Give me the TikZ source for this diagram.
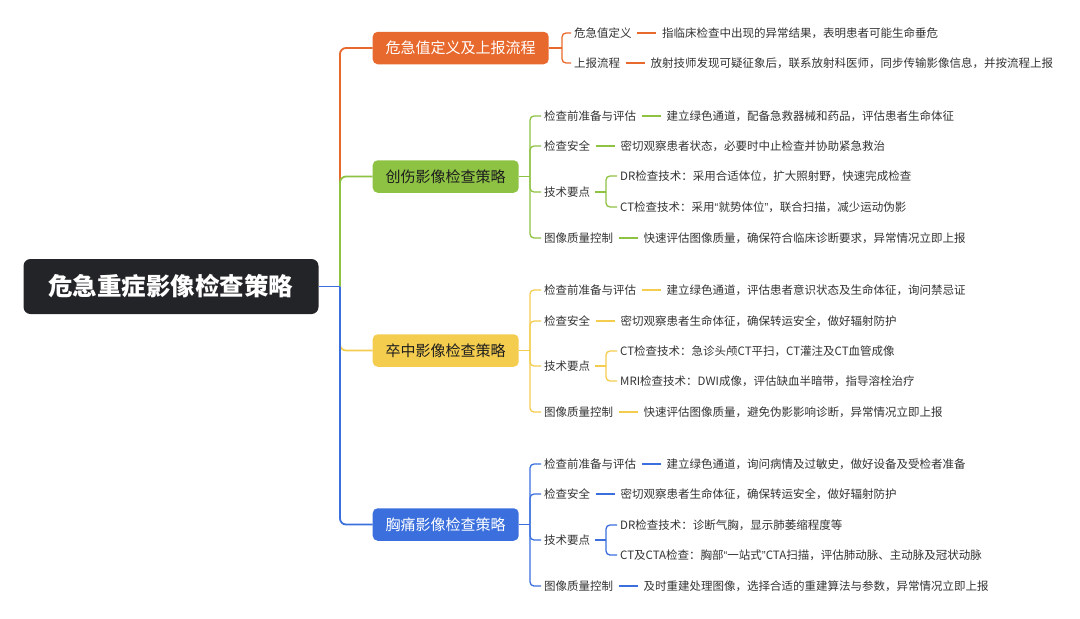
\documentclass[tikz,border=0pt]{standalone}
\usepackage{fontspec}
\setmainfont{Noto Sans CJK SC}
\newfontfamily\qfont{Liberation Sans}
\newcommand{\myLq}{{\qfont “}}
\newcommand{\myRq}{{\qfont ”}}
\usetikzlibrary{positioning}
\definecolor{corange}{HTML}{E8692D}
\definecolor{cgreen}{HTML}{8DC243}
\definecolor{cyellow}{HTML}{F4CD4F}
\definecolor{cblue}{HTML}{3A6FDD}
\definecolor{croot}{HTML}{232427}
\definecolor{ctext}{HTML}{333333}
\definecolor{cdark}{HTML}{1E1E1E}
\tikzset{
  leaf/.style={font=\fontsize{11.5}{13}\selectfont, text=ctext, inner sep=0pt, anchor=west},
  lone/.style={rounded corners=5pt, inner xsep=13pt, inner ysep=0pt, minimum height=32.5pt, anchor=west, font=\fontsize{15}{17}\selectfont},
  rootbox/.style={rounded corners=7pt, fill=croot, text=white, inner xsep=25pt, minimum height=55pt, font=\fontsize{24.5}{27}\selectfont\bfseries},
  trunk/.style={line width=1.8pt, rounded corners=6pt},
  branch/.style={line width=1.3pt, rounded corners=4pt, shorten >=3pt},
  stub/.style={line width=1.3pt},
  dashline/.style={line width=1.3pt, shorten <=5.5pt, shorten >=5.5pt}
}
\begin{document}
\begin{tikzpicture}[x=1pt,y=-1pt]
\useasboundingbox (0,0) rectangle (1080,619);

% root
\node[rootbox] (root) at (171,286.5) {危急重症影像检查策略};

% level 1
\node[lone, fill=corange, text=white] (LO) at (372.5,48) {危急值定义及上报流程};
\node[lone, fill=cgreen, text=cdark] (LG) at (372.5,176.5) {创伤影像检查策略};
\node[lone, fill=cyellow, text=cdark] (LY) at (372.5,350.5) {卒中影像检查策略};
\node[lone, fill=cblue, text=white] (LB) at (372.5,524.5) {胸痛影像检查策略};

\coordinate (T) at (340,286.5);
\draw[trunk, corange] (T) |- (LO.west);
\draw[trunk, cgreen] (T) |- (LG.west);
\draw[trunk, cyellow] (T) |- (LY.west);
\draw[trunk, cblue] (T) |- (LB.west);
\draw[line width=1.8pt, cblue] (root.east) -- (T);

% ---------- orange ----------
\node[leaf] (o1) at (574,33) {危急值定义};
\node[leaf, right=30pt of o1] (o1d) {指临床检查中出现的异常结果，表明患者可能生命垂危};
\node[leaf] (o2) at (574,63) {上报流程};
\node[leaf, right=30pt of o2] (o2d) {放射技师发现可疑征象后，联系放射科医师，同步传输影像信息，并按流程上报};
\coordinate (BO) at (562,48);
\draw[stub, corange] (LO.east) -- (BO);
\draw[branch, corange] (BO) |- (o1.west);
\draw[branch, corange] (BO) |- (o2.west);
\draw[dashline, corange] (o1.east) -- (o1d.west);
\draw[dashline, corange] (o2.east) -- (o2d.west);

% ---------- green ----------
\node[leaf] (g1) at (544,116) {检查前准备与评估};
\node[leaf, right=30pt of g1] (g1d) {建立绿色通道，配备急救器械和药品，评估患者生命体征};
\node[leaf] (g2) at (544,146) {检查安全};
\node[leaf, right=30pt of g2] (g2d) {密切观察患者状态，必要时中止检查并协助紧急救治};
\node[leaf] (g3) at (544,192) {技术要点};
\node[leaf] (g3a) at (620,176) {DR检查技术：采用合适体位，扩大照射野，快速完成检查};
\node[leaf] (g3b) at (620,207) {CT检查技术：采用\myLq 就势体位\myRq，联合扫描，减少运动伪影};
\node[leaf] (g4) at (544,238) {图像质量控制};
\node[leaf, right=30pt of g4] (g4d) {快速评估图像质量，确保符合临床诊断要求，异常情况立即上报};
\coordinate (BG) at (530,176.5);
\draw[stub, cgreen] (LG.east) -- (BG);
\foreach \c in {g1,g2,g3,g4} \draw[branch, cgreen] (BG) |- (\c.west);
\foreach \c in {g1,g2,g4} \draw[dashline, cgreen] (\c.east) -- (\c d.west);
\coordinate (SG) at (606,192);
\draw[stub, cgreen, shorten <=5pt] (g3.east) -- (SG);
\draw[branch, cgreen] (SG) |- (g3a.west);
\draw[branch, cgreen] (SG) |- (g3b.west);

% ---------- yellow ----------
\node[leaf] (y1) at (544,290) {检查前准备与评估};
\node[leaf, right=30pt of y1] (y1d) {建立绿色通道，评估患者意识状态及生命体征，询问禁忌证};
\node[leaf] (y2) at (544,321) {检查安全};
\node[leaf, right=30pt of y2] (y2d) {密切观察患者生命体征，确保转运安全，做好辐射防护};
\node[leaf] (y3) at (544,366) {技术要点};
\node[leaf] (y3a) at (620,351) {CT检查技术：急诊头颅CT平扫，CT灌注及CT血管成像};
\node[leaf] (y3b) at (620,381) {MRI检查技术：DWI成像，评估缺血半暗带，指导溶栓治疗};
\node[leaf] (y4) at (544,412) {图像质量控制};
\node[leaf, right=30pt of y4] (y4d) {快速评估图像质量，避免伪影影响诊断，异常情况立即上报};
\coordinate (BY) at (530,350.5);
\draw[stub, cyellow] (LY.east) -- (BY);
\foreach \c in {y1,y2,y3,y4} \draw[branch, cyellow] (BY) |- (\c.west);
\foreach \c in {y1,y2,y4} \draw[dashline, cyellow] (\c.east) -- (\c d.west);
\coordinate (SY) at (606,366);
\draw[stub, cyellow, shorten <=5pt] (y3.east) -- (SY);
\draw[branch, cyellow] (SY) |- (y3a.west);
\draw[branch, cyellow] (SY) |- (y3b.west);

% ---------- blue ----------
\node[leaf] (b1) at (544,464) {检查前准备与评估};
\node[leaf, right=30pt of b1] (b1d) {建立绿色通道，询问病情及过敏史，做好设备及受检者准备};
\node[leaf] (b2) at (544,494) {检查安全};
\node[leaf, right=30pt of b2] (b2d) {密切观察患者生命体征，确保转运安全，做好辐射防护};
\node[leaf] (b3) at (544,540) {技术要点};
\node[leaf] (b3a) at (620,525) {DR检查技术：诊断气胸，显示肺萎缩程度等};
\node[leaf] (b3b) at (620,555) {CT及CTA检查：胸部\myLq 一站式\myRq CTA扫描，评估肺动脉、主动脉及冠状动脉};
\node[leaf] (b4) at (544,586) {图像质量控制};
\node[leaf, right=30pt of b4] (b4d) {及时重建处理图像，选择合适的重建算法与参数，异常情况立即上报};
\coordinate (BB) at (530,524.5);
\draw[stub, cblue] (LB.east) -- (BB);
\foreach \c in {b1,b2,b3,b4} \draw[branch, cblue] (BB) |- (\c.west);
\foreach \c in {b1,b2,b4} \draw[dashline, cblue] (\c.east) -- (\c d.west);
\coordinate (SB) at (606,540);
\draw[stub, cblue, shorten <=5pt] (b3.east) -- (SB);
\draw[branch, cblue] (SB) |- (b3a.west);
\draw[branch, cblue] (SB) |- (b3b.west);
\end{tikzpicture}
\end{document}
